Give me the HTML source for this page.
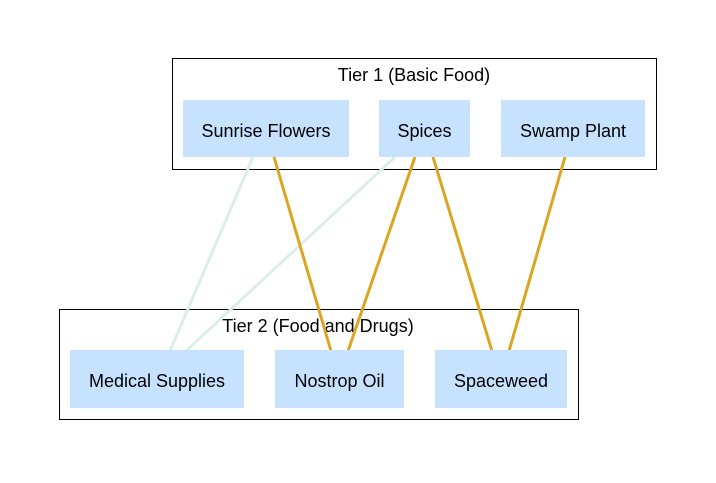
<!DOCTYPE html>
<html><head><meta charset="utf-8"><style>html,body{margin:0;padding:0;background:#fff}</style></head>
<body>
<svg width="716" height="478" xmlns="http://www.w3.org/2000/svg" font-family="Liberation Sans, Arial, sans-serif">
<rect width="716" height="478" fill="#fff"/>
<rect x="172.5" y="58.5" width="484" height="111" fill="none" stroke="#000" stroke-width="1"/>
<text x="414" y="81" font-size="18" text-anchor="middle">Tier 1 (Basic Food)</text>
<rect x="59.5" y="309.5" width="519" height="110" fill="none" stroke="#000" stroke-width="1"/>
<text x="318" y="332" font-size="18" text-anchor="middle">Tier 2 (Food and Drugs)</text>
<g stroke-width="3" fill="none">
<line x1="253" y1="157" x2="170" y2="351" stroke="#dceee9"/>
<line x1="395" y1="157" x2="186" y2="351" stroke="#dceee9"/>
<line x1="274" y1="157" x2="331" y2="351" stroke="#daa520"/>
<line x1="415" y1="157" x2="348" y2="351" stroke="#daa520"/>
<line x1="433" y1="157" x2="492" y2="351" stroke="#daa520"/>
<line x1="565" y1="157" x2="509" y2="351" stroke="#daa520"/>
</g>
<g fill="#c6e2ff">
<rect x="183" y="100" width="166" height="57"/>
<rect x="379" y="100" width="91" height="57"/>
<rect x="501" y="100" width="144" height="57"/>
<rect x="70" y="350" width="174" height="58"/>
<rect x="275" y="350" width="129" height="58"/>
<rect x="435" y="350" width="132" height="58"/>
</g>
<g font-size="18" text-anchor="middle">
<text x="266" y="137">Sunrise Flowers</text>
<text x="424.5" y="137">Spices</text>
<text x="573" y="137">Swamp Plant</text>
<text x="157" y="387">Medical Supplies</text>
<text x="339.5" y="387">Nostrop Oil</text>
<text x="501" y="387">Spaceweed</text>
</g>
</svg>
</body></html>
